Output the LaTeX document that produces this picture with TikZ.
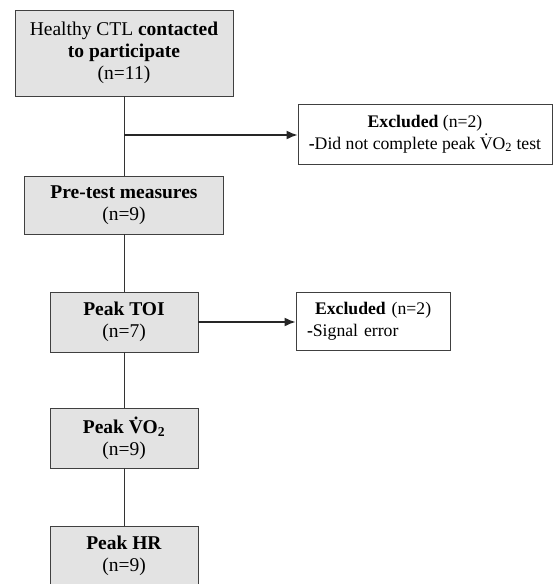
\documentclass[tikz,border=0pt]{standalone}
\usepackage{fontspec}
\setmainfont{Liberation Serif}
\usetikzlibrary{arrows.meta}
\newcommand{\stagefont}{\fontsize{19.5pt}{22pt}\selectfont}
\newcommand{\exclfont}{\fontsize{17.7pt}{22pt}\selectfont}
\tikzset{
	stage/.style={draw=black!75, fill=black!11, line width=0.8pt, align=center, inner sep=0pt, font=\stagefont},
	excl/.style={draw=black!75, fill=white, line width=0.8pt, inner sep=0pt, font=\exclfont},
	link/.style={line width=0.9pt, color=black!80},
	flow/.style={line width=1.8pt, color=black!85, -{Latex[length=11pt,width=9pt]}}
}
\begin{document}
\begin{tikzpicture}[x=1pt, y=-1pt]
		%%%%% START %%%%%
		\useasboundingbox (0, 0) rectangle (555, 584);
		
		\node[stage, minimum width=218pt, minimum height=86pt] (hc) at (124, 53) {Healthy CTL \textbf{contacted}\\\textbf{to participate}\\(n=11)};
		\node[stage, minimum width=199pt, minimum height=58pt] (pre) at (124, 205) {\textbf{Pre-test measures}\\(n=9)};
		\node[stage, minimum width=148pt, minimum height=60pt] (toi) at (124, 322) {\textbf{Peak TOI}\\(n=7)};
		\node[stage, minimum width=148pt, minimum height=60pt] (vo) at (124, 438) {\textbf{Peak \.{V}O\textsubscript{2}}\\(n=9)};
		\node[stage, minimum width=148pt, minimum height=60pt] (hr) at (124, 556) {\textbf{Peak HR}\\(n=9)};
		
		\node[excl, minimum width=254pt, minimum height=60pt, align=center] (ex1) at (425, 134) {\textbf{Excluded} (n=2)\\\textbf{-}Did not complete peak \.{V}O\textsubscript{2} test};
		\node[excl, minimum width=154pt, minimum height=58pt, text width=132pt, align=left] (ex2) at (373, 321) {\hspace*{8pt}\textbf{Excluded} (n=2)\\\textbf{-}Signal error};
		
		\coordinate (b1) at (124, 135);
		
		\draw[link] (hc) -- (pre);
		\draw[link] (pre) -- (toi);
		\draw[link] (toi) -- (vo);
		\draw[link] (vo) -- (hr);
		
		\draw[flow] (b1) -- (b1 -| ex1.west);
		\draw[flow] (toi.east) -- (toi.east -| ex2.west);
		%%%%% END %%%%%
\end{tikzpicture}
\end{document}
